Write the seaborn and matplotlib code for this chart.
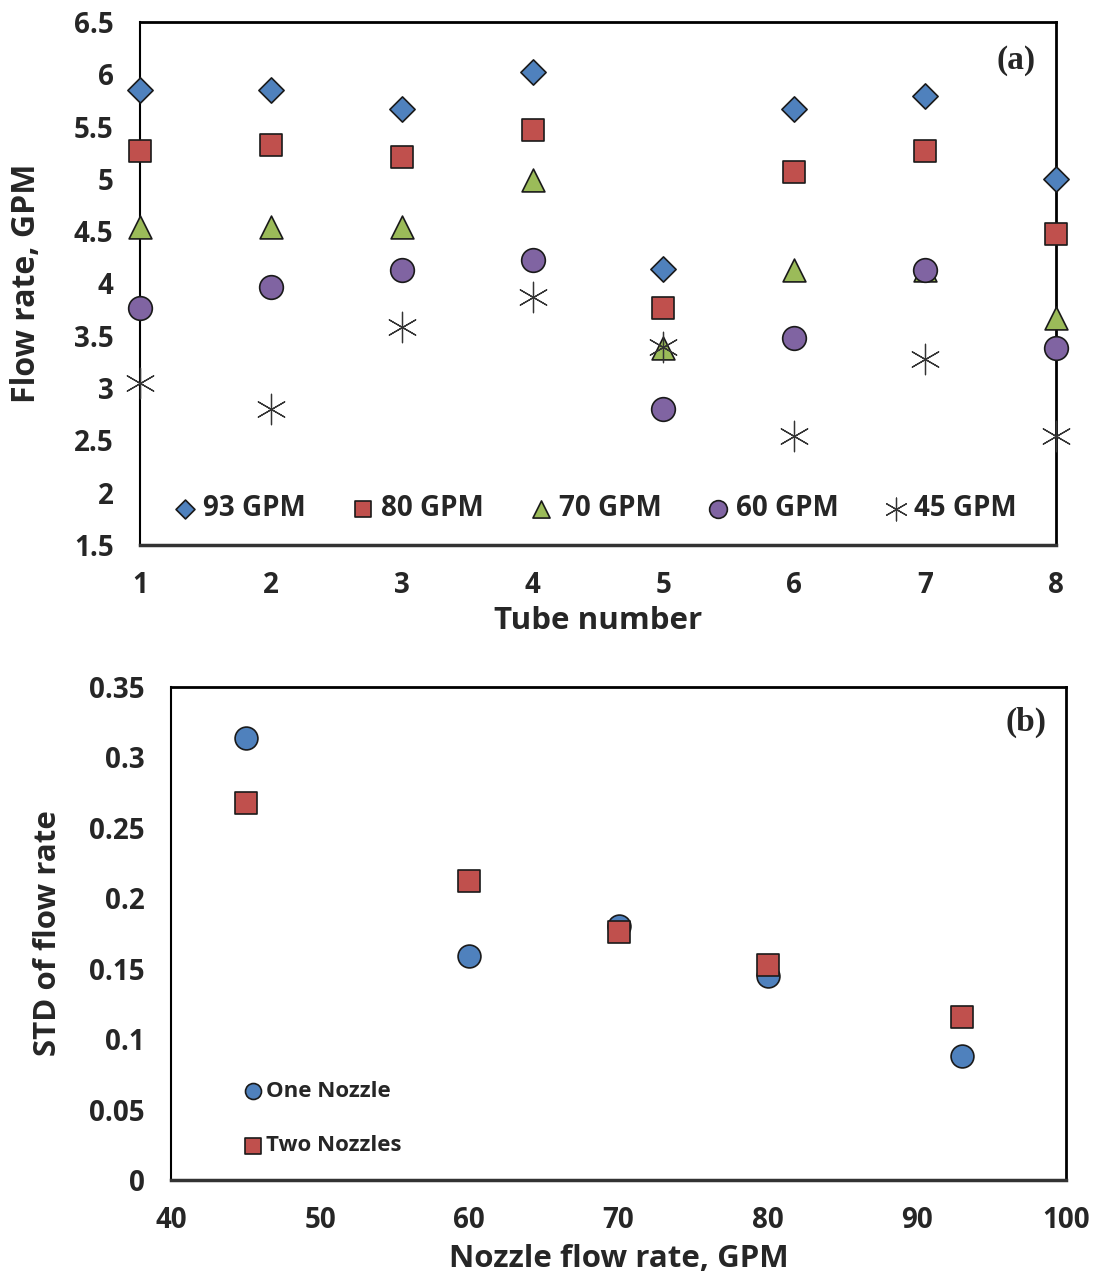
import numpy as np
import pandas as pd
import matplotlib
matplotlib.use("Agg")
import matplotlib.pyplot as plt
import seaborn as sns

# --- data ---
tubes = [1, 2, 3, 4, 5, 6, 7, 8]
gpm_93 = [5.85, 5.85, 5.67, 6.02, 4.14, 5.67, 5.79, 5.00]
gpm_80 = [5.27, 5.32, 5.21, 5.47, 3.77, 5.07, 5.27, 4.47]
gpm_70 = [4.54, 4.54, 4.54, 4.99, 3.38, 4.13, 4.13, 3.67]
gpm_60 = [3.77, 3.97, 4.13, 4.22, 2.80, 3.48, 4.13, 3.38]
gpm_45 = [3.05, 2.80, 3.58, 3.87, 3.39, 2.54, 3.28, 2.54]
series_names = ["93 GPM", "80 GPM", "70 GPM", "60 GPM", "45 GPM"]

nozzle_flow = [45, 60, 70, 80, 93]
std_one = [0.314, 0.159, 0.180, 0.145, 0.088]
std_two = [0.268, 0.212, 0.176, 0.153, 0.116]

sns.set_style("white")
plt.rcParams["font.family"] = ["Open Sans", "DejaVu Sans"]
plt.rcParams["font.weight"] = "bold"

top = pd.DataFrame({
    "tube": tubes * 5,
    "flow": gpm_93 + gpm_80 + gpm_70 + gpm_60 + gpm_45,
    "series": np.repeat(series_names, len(tubes)),
})
bot = pd.DataFrame({
    "gpm": nozzle_flow * 2,
    "std": std_one + std_two,
    "setup": ["One Nozzle"] * 5 + ["Two Nozzles"] * 5,
})

fig = plt.figure(figsize=(10.99, 12.76), dpi=100)
ax1 = fig.add_axes([0.1274, 0.5729, 0.8335, 0.4099])
ax2 = fig.add_axes([0.1556, 0.0752, 0.8144, 0.3864])

styles = {
    "93 GPM": dict(marker="D", color="#4F81BD", s=165),
    "80 GPM": dict(marker="s", color="#C0504D", s=250),
    "70 GPM": dict(marker="^", color="#9BBB59", s=270),
    "60 GPM": dict(marker="o", color="#8064A2", s=290),
}
for name in series_names[:4]:
    st = styles[name]
    sns.scatterplot(data=top[top.series == name], x="tube", y="flow", ax=ax1,
                    marker=st["marker"], color=st["color"], s=st["s"],
                    edgecolor="#1a1a1a", linewidth=1.2, label=name, zorder=3,
                    clip_on=False)
sns.scatterplot(data=top[top.series == "45 GPM"], x="tube", y="flow", ax=ax1,
                marker=(6, 2, 0), color="#333333", s=480, linewidth=0.9,
                label="45 GPM", zorder=3, clip_on=False)

ax1.set_xlim(1, 8)
ax1.set_ylim(1.5, 6.5)
ax1.set_yticks(np.arange(1.5, 6.51, 0.5))
ax1.set_yticklabels(["1.5", "2", "2.5", "3", "3.5", "4", "4.5", "5", "5.5", "6", "6.5"])
ax1.set_xticks(tubes)
ax1.set_xlabel("Tube number", fontsize=22.5, fontweight="bold", labelpad=4)
ax1.set_ylabel("Flow rate, GPM", fontsize=23, fontweight="bold")
ax1.yaxis.set_label_coords(-0.106, 0.5)
ax1.text(0.978, 0.955, "(a)", transform=ax1.transAxes, ha="right", va="top",
         fontsize=24, fontweight="bold", family="Liberation Serif")
ax1.legend(loc="lower center", bbox_to_anchor=(0.488, 0.02), ncol=5, frameon=False,
           fontsize=20, handletextpad=-0.35, columnspacing=1.05, markerscale=0.75,
           borderaxespad=0)

sns.scatterplot(data=bot[bot.setup == "One Nozzle"], x="gpm", y="std", ax=ax2,
                marker="o", color="#4F81BD", s=270, edgecolor="#1a1a1a",
                linewidth=1.2, label="One Nozzle", zorder=3)
sns.scatterplot(data=bot[bot.setup == "Two Nozzles"], x="gpm", y="std", ax=ax2,
                marker="s", color="#C0504D", s=250, edgecolor="#1a1a1a",
                linewidth=1.2, label="Two Nozzles", zorder=3)
ax2.set_xlim(40, 100)
ax2.set_ylim(0, 0.35)
ax2.set_xticks(np.arange(40, 101, 10))
ax2.set_yticks(np.arange(0, 0.351, 0.05))
ax2.set_yticklabels(["0", "0.05", "0.1", "0.15", "0.2", "0.25", "0.3", "0.35"])
ax2.set_xlabel("Nozzle flow rate, GPM", fontsize=22.5, fontweight="bold", labelpad=6)
ax2.set_ylabel("STD of flow rate", fontsize=22.5, fontweight="bold")
ax2.yaxis.set_label_coords(-0.121, 0.5)
ax2.text(0.978, 0.96, "(b)", transform=ax2.transAxes, ha="right", va="top",
         fontsize=24, fontweight="bold", family="Liberation Serif")
ax2.legend(loc="lower left", bbox_to_anchor=(0.057, 0.03), frameon=False,
           fontsize=16, handletextpad=-0.4, labelspacing=1.5, markerscale=0.7,
           borderaxespad=0)

for ax in (ax1, ax2):
    for side in ("top", "right"):
        ax.spines[side].set_color("black")
        ax.spines[side].set_linewidth(2)
    ax.spines["left"].set_color("black")
    ax.spines["left"].set_linewidth(1.5)
    ax.spines["bottom"].set_color("#333333")
    ax.spines["bottom"].set_linewidth(2.5)
    ax.tick_params(axis="both", direction="out", length=7, width=1.2,
                   color="#888888", labelsize=20, pad=12)
    ax.tick_params(axis="x", pad=12)
    for lbl in ax.get_xticklabels() + ax.get_yticklabels():
        lbl.set_fontweight("bold")

fig.savefig("out.png", dpi=100)
